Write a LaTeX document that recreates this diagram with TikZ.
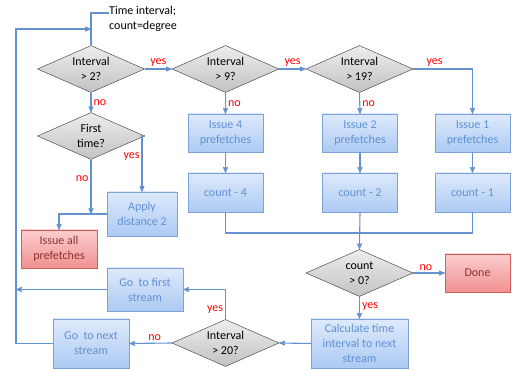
\documentclass[tikz,border=0pt]{standalone}
\usepackage{fontspec}
\setmainfont{Carlito}
\usepackage{tikz}
\usetikzlibrary{shapes.geometric}
\usetikzlibrary{arrows}

\definecolor{flow}{RGB}{100,145,208}
\definecolor{boxtop}{RGB}{222,234,251}
\definecolor{boxbot}{RGB}{172,202,243}
\definecolor{boxline}{RGB}{125,162,215}
\definecolor{boxtext}{RGB}{95,145,215}
\definecolor{redtop}{RGB}{251,205,205}
\definecolor{redbot}{RGB}{240,145,145}
\definecolor{redline}{RGB}{205,95,95}
\definecolor{redtext}{RGB}{140,50,50}

\tikzset{
	every node/.style={font=\fontsize{12}{15}\selectfont, align=center},
	test/.style={diamond, draw=black!80, top color=black!7, bottom color=black!24, aspect=2.3, inner sep=1pt, minimum width=107, minimum height=47},
	task/.style={rectangle, draw=boxline, top color=boxtop, bottom color=boxbot, text=boxtext, minimum width=75, minimum height=38, inner sep=1pt},
	stop/.style={rectangle, draw=redline, top color=redtop, bottom color=redbot, text=redtext, minimum width=76, minimum height=38, inner sep=1pt},
	flowline/.style={draw=flow, line width=1.1pt},
	ans/.style={text=red, inner sep=2pt}
}

\begin{document}
\begin{tikzpicture}[x=1pt,y=-1pt,>=stealth']
	\useasboundingbox (0,0) rectangle (512,371);
	% decisions
	\node[test] (gt2) at (91,69) {Interval\\> 2?};
	\node[test] (gt9) at (225.5,69) {Interval\\> 9?};
	\node[test] (gt19) at (359.5,69) {Interval\\> 19?};
	\node[test] (first) at (91,136) {First\\time?};
	\node[test] (cnt) at (359.5,273) {count\\> 0?};
	\node[test] (gt20) at (225.5,343) {Interval\\> 20?};
	% tasks
	\node[task] (iss4) at (225.5,133) {Issue 4\\prefetches};
	\node[task] (iss2) at (360,133) {Issue 2\\prefetches};
	\node[task] (iss1) at (472.5,133) {Issue 1\\prefetches};
	\node[task,minimum height=39] (cnt4) at (225.5,192.5) {count - 4};
	\node[task,minimum height=39] (cnt2) at (360,192.5) {count - 2};
	\node[task,minimum height=39] (cnt1) at (472.5,192.5) {count - 1};
	\node[task,minimum width=70,minimum height=44] (apply) at (142,214) {Apply\\distance 2};
	\node[stop] (issall) at (59,249) {Issue all\\prefetches};
	\node[stop,minimum width=65] (done) at (477.5,273) {Done};
	\node[task,minimum width=97,minimum height=49] (calc) at (359.5,343.5) {Calculate time\\interval to next\\stream};
	\node[task,minimum width=76,minimum height=43] (gofirst) at (145,289.5) {Go\ \ to first\\stream};
	\node[task,minimum width=76,minimum height=49] (gonext) at (91,343.5) {Go\ \ to next\\stream};
	\node[align=left,anchor=north west,inner sep=0pt] (start) at (109,5.5) {Time interval;\\ count=degree};
	% helper points
	\coordinate (join) at (91,29);
	\coordinate (back) at (16,0);
	\coordinate (merge) at (91,214);
	\coordinate (sum) at (360,233);
	% connectors
	\draw[flowline] ([yshift=-7.5pt]start.north west) -| (gt2.north);
	\draw[flowline,->] (gonext.west) -- (gonext.west -| back) |- (join);
	\draw[flowline,->] (gofirst.west) -- (gofirst.west -| back);
	\draw[flowline,->] (gt2.east) -- node[ans,above] {yes} (gt9.west);
	\draw[flowline,->] (gt9.east) -- node[ans,above] {yes} (gt19.west);
	\draw[flowline,->] (gt19.east) -| node[ans,above,pos=0.18] {yes} (iss1.north);
	\draw[flowline,->] (gt2.south) -- node[ans,right] {no} (first.north);
	\draw[flowline,->] (gt9.south) -- node[ans,right] {no} (iss4.north);
	\draw[flowline,->] (gt19.south) -- node[ans,right] {no} (iss2.north);
	\draw[flowline,->] (first.east) -| node[ans,left,pos=0.68] {yes} (apply.north);
	\draw[flowline,->] (first.south) -- node[ans,left,pos=0.35] {no} (merge);
	\draw[flowline,->] (apply.west) -| (issall.north);
	\draw[flowline,->] (iss4) -- (cnt4);
	\draw[flowline,->] (iss2) -- (cnt2);
	\draw[flowline,->] (iss1) -- (cnt1);
	\draw[flowline] (cnt4.south) |- (sum);
	\draw[flowline] (cnt1.south) |- (sum);
	\draw[flowline,->] (cnt2.south) -- (cnt.north);
	\draw[flowline,->] (cnt.east) -- node[ans,above,pos=0.4] {no} (done.west);
	\draw[flowline,->] (cnt.south) -- node[ans,right,pos=0.45] {yes} (calc.north);
	\draw[flowline,->] (calc.west) -- (gt20.east);
	\draw[flowline,->] (gt20.north) |- node[ans,left,pos=0.17] {yes} (gofirst.east);
	\draw[flowline,->] (gt20.west) -- node[ans,above,pos=0.4] {no} (gonext.east);
\end{tikzpicture}
\end{document}
